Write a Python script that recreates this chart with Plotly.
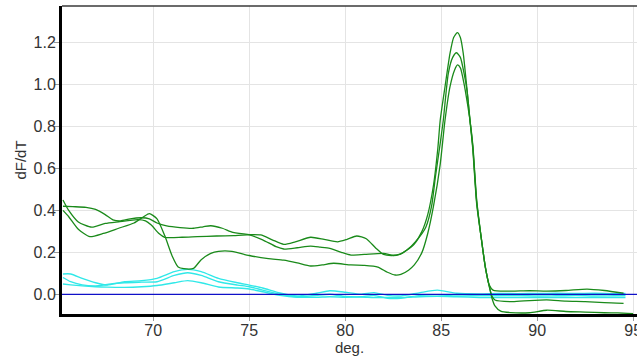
import plotly.graph_objects as go

# Melt-curve derivative data (temperature in deg., dF/dT)
temp_a = [65.3, 65.6, 66.1, 66.7, 67.4, 68.2, 69.0, 69.5, 69.8, 70.2, 70.6, 71.0, 71.3, 71.6, 72.1,
          72.5, 73.0, 73.4, 74.1, 75.0, 76.0, 76.8, 77.5, 78.2, 78.8, 79.4, 80.3, 81.0, 81.7, 82.2,
          82.6, 82.9, 83.3, 83.6, 84.0, 84.3, 84.6, 84.95, 85.2, 85.46, 85.7, 85.85, 86.0, 86.2,
          86.35, 86.5, 86.65, 86.85, 87.1, 87.3, 87.5, 87.65, 87.8, 88.1, 88.6, 89.6, 90.5, 91.5,
          92.5, 93.5, 94.2, 95.0]
dfdt_a = [0.40, 0.37, 0.31, 0.275, 0.29, 0.315, 0.34, 0.37, 0.385, 0.36, 0.28, 0.18, 0.13, 0.122,
          0.124, 0.165, 0.195, 0.205, 0.205, 0.185, 0.17, 0.163, 0.15, 0.135, 0.14, 0.148, 0.14,
          0.138, 0.13, 0.105, 0.092, 0.095, 0.115, 0.14, 0.2, 0.29, 0.42, 0.62, 0.83, 0.99, 1.07,
          1.094, 1.08, 1.0, 0.92, 0.83, 0.71, 0.45, 0.26, 0.13, 0.04, -0.02, -0.055, -0.08, -0.087,
          -0.088, -0.076, -0.082, -0.085, -0.088, -0.089, -0.092]

temp_b = [65.3, 65.8, 66.5, 67.0, 67.5, 67.9, 68.3, 68.8, 69.4, 69.8, 70.2, 70.7, 71.4, 72.1, 72.6,
          73.0, 73.6, 74.15, 75.0, 75.6, 76.2, 76.8, 77.4, 78.2, 78.9, 79.6, 80.1, 80.6, 81.1, 81.6,
          82.0, 82.4, 82.85, 83.2, 83.6, 84.0, 84.3, 84.6, 84.83, 84.95, 85.2, 85.46, 85.65, 85.84,
          86.0, 86.15, 86.33, 86.5, 86.64, 86.85, 87.1, 87.3, 87.5, 87.7, 87.9, 88.7, 89.6, 90.5,
          91.5, 92.6, 93.5, 94.5]
dfdt_b = [0.42, 0.418, 0.415, 0.405, 0.38, 0.355, 0.35, 0.36, 0.365, 0.36, 0.34, 0.326, 0.318,
          0.315, 0.322, 0.327, 0.315, 0.295, 0.285, 0.283, 0.26, 0.238, 0.25, 0.272, 0.262, 0.25,
          0.262, 0.278, 0.265, 0.22, 0.19, 0.185, 0.19, 0.21, 0.24, 0.3, 0.38, 0.52, 0.7, 0.83,
          0.99, 1.149, 1.225, 1.248, 1.225, 1.149, 0.99, 0.83, 0.70, 0.43, 0.26, 0.13, 0.045, 0.02,
          0.016, 0.015, 0.017, 0.015, 0.018, 0.025, 0.018, 0.005]

temp_c = [65.3, 65.6, 66.1, 66.8, 67.5, 68.2, 69.2, 69.6, 69.9, 70.3, 70.6, 71.5, 72.3, 73.3, 74.2,
          75.0, 75.7, 76.4, 76.8, 77.5, 78.2, 78.7, 79.2, 79.8, 80.3, 81.0, 82.0, 82.5, 82.85, 83.2,
          83.7, 84.2, 84.5, 84.7, 84.95, 85.11, 85.37, 85.6, 85.8, 86.0, 86.2, 86.35, 86.5, 86.65,
          86.85, 87.1, 87.3, 87.5, 87.65, 87.8, 88.7, 89.6, 90.5, 91.5, 92.5, 93.5, 94.5]
dfdt_c = [0.45, 0.40, 0.345, 0.32, 0.338, 0.346, 0.356, 0.35, 0.33, 0.29, 0.272, 0.272, 0.275,
          0.278, 0.28, 0.283, 0.26, 0.227, 0.216, 0.222, 0.23, 0.225, 0.219, 0.2, 0.187, 0.19,
          0.195, 0.185, 0.192, 0.21, 0.255, 0.32, 0.42, 0.56, 0.72, 0.83, 1.053, 1.13, 1.152, 1.13,
          1.05, 0.97, 0.83, 0.70, 0.44, 0.26, 0.13, 0.04, -0.01, -0.027, -0.035, -0.03, -0.027,
          -0.033, -0.035, -0.04, -0.043]

# Negative-control wells share one temperature grid
temp_ntc = [65.3, 65.7, 66.3, 67.0, 67.6, 68.5, 69.4, 70.2, 71.1, 71.8, 72.5, 73.4, 74.4, 75.0,
            75.7, 76.6, 77.5, 78.5, 79.2, 80.0, 80.8, 81.5, 82.2, 82.9, 83.9, 84.8, 85.8, 87.0,
            88.0, 89.0, 90.0, 91.0, 92.0, 93.0, 94.0, 94.6]
dfdt_ntc1 = [0.097, 0.097, 0.076, 0.055, 0.044, 0.06, 0.065, 0.076, 0.108, 0.119, 0.108, 0.076,
             0.055, 0.044, 0.03, 0.006, -0.008, 0.005, 0.017, 0.01, 0.0, 0.008, -0.005, -0.008,
             0.008, 0.02, 0.005, 0.002, 0.004, 0.003, 0.004, 0.005, 0.004, 0.005, 0.003, 0.004]
dfdt_ntc2 = [0.08, 0.06, 0.045, 0.04, 0.047, 0.055, 0.058, 0.06, 0.09, 0.103, 0.09, 0.06, 0.044,
             0.036, 0.02, 0.0, -0.012, -0.005, 0.0, -0.01, -0.012, -0.005, -0.019, -0.019, -0.005,
             -0.002, -0.008, -0.006, -0.007, -0.006, -0.008, -0.007, -0.006, -0.008, -0.007, -0.007]
dfdt_ntc3 = [0.049, 0.045, 0.04, 0.036, 0.034, 0.033, 0.036, 0.042, 0.055, 0.065, 0.055, 0.035,
             0.03, 0.025, 0.012, -0.005, -0.014, -0.014, -0.012, -0.014, -0.013, -0.015, -0.015,
             -0.016, -0.012, -0.01, -0.012, -0.015, -0.016, -0.015, -0.016, -0.015, -0.016, -0.016,
             -0.015, -0.016]

x_ticks = [70, 75, 80, 85, 90, 95]
y_ticks = [0.0, 0.2, 0.4, 0.6, 0.8, 1.0, 1.2]
threshold = 0.0

GREEN = "#1a8a1a"
CYAN = "#30e8e8"

fig = go.Figure()

for x, y in [(temp_ntc, dfdt_ntc1), (temp_ntc, dfdt_ntc2), (temp_ntc, dfdt_ntc3)]:
    fig.add_trace(go.Scatter(x=x, y=y, mode="lines",
                             line=dict(color=CYAN, width=1.4, shape="spline", smoothing=0.6),
                             hoverinfo="skip", showlegend=False))

for x, y in [(temp_a, dfdt_a), (temp_b, dfdt_b), (temp_c, dfdt_c)]:
    fig.add_trace(go.Scatter(x=x, y=y, mode="lines",
                             line=dict(color=GREEN, width=1.3, shape="spline", smoothing=0.6),
                             hoverinfo="skip", showlegend=False))

# Threshold line
fig.add_hline(y=threshold, line=dict(color="#1010c8", width=1.2))

# Top frame edge
fig.add_shape(type="line", xref="paper", yref="paper", x0=0, x1=1, y0=1, y1=1,
              line=dict(color="#3a3a3a", width=1.5))

font_main = dict(family="Liberation Sans, Arial, sans-serif", size=15, color="#333333")

fig.update_layout(
    width=637, height=361,
    margin=dict(l=62, r=0, t=6, b=47),
    paper_bgcolor="white", plot_bgcolor="white",
    font=font_main,
    showlegend=False,
    xaxis=dict(
        range=[65.25, 95.2], tickvals=x_ticks, ticktext=[str(v) for v in x_ticks],
        showgrid=True, gridcolor="#e4e4e4", gridwidth=1, zeroline=False,
        showline=True, linecolor="black", linewidth=3,
        ticks="outside", ticklen=4, tickcolor="#999999",
        tickfont=dict(size=16, color="#333333"),
        ticklabeloverflow="allow", ticklabelstandoff=-4,
        title=dict(text="deg.", font=dict(size=15, color="#333333"), standoff=4),
        automargin=False,
    ),
    yaxis=dict(
        range=[-0.094, 1.375], tickvals=y_ticks, ticktext=[f"{v:.1f}" for v in y_ticks],
        showgrid=True, gridcolor="#e4e4e4", gridwidth=1, zeroline=False,
        showline=True, linecolor="black", linewidth=3,
        ticks="outside", ticklen=5, tickcolor="#999999",
        tickfont=dict(size=16, color="#333333"),
        ticklabeloverflow="allow", ticklabelstandoff=-5,
        title=dict(text="dF/dT", font=dict(size=15, color="#333333"), standoff=4),
        automargin=False,
    ),
)

fig.write_html("out.html")
